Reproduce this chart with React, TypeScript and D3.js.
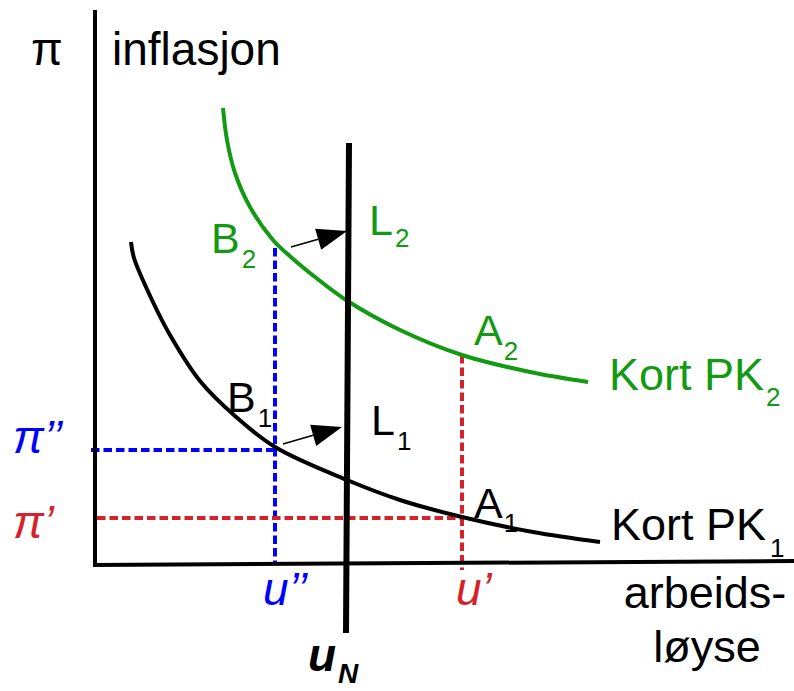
import React from "react";
import * as d3 from "d3";

// ---- data (economic units: u = unemployment, p = inflation) ----
const curvePK1: [number, number][] = [
  [0.72, 6.46], [0.78, 6.14], [1.14, 5.3], [1.5, 4.6], [2.1, 3.68], [2.8, 2.98],
  [3.6, 2.36], [5.04, 1.7], [6.1, 1.3], [7.34, 0.96], [8.76, 0.66], [10.1, 0.46],
];
const curvePK2: [number, number][] = [
  [2.56, 9.14], [2.64, 8.5], [2.8, 7.84], [3.1, 7.16], [3.56, 6.5],
  [3.94, 6.14], [4.4, 5.76], [5.02, 5.3], [6.1, 4.7], [7.34, 4.2], [8.7, 3.86], [9.86, 3.66],
];
const naturalRate: [number, number][] = [[5.08, 8.44], [5.02, -1.36]];
const uDouble = 3.6;   // u''
const piDouble = 2.3;  // pi''
const uSingle = 7.34;  // u'
const piSingle = 0.94; // pi'
const arrows: { from: [number, number]; to: [number, number] }[] = [
  { from: [3.92, 6.36], to: [5.04, 6.68] },
  { from: [3.76, 2.42], to: [4.94, 2.76] },
];
const yAxisTop = 11.1;
const xAxisEnd: [number, number] = [13.98, 0.08];

const W = 794;
const H = 691;

const x = d3.scaleLinear().domain([0, 14]).range([95, 795]);
const y = d3.scaleLinear().domain([0, 11.1]).range([565, 10]);

const line = d3
  .line<[number, number]>()
  .x((d) => x(d[0]))
  .y((d) => y(d[1]))
  .curve(d3.curveCatmullRom.alpha(0.5));
const straight = d3
  .line<[number, number]>()
  .x((d) => x(d[0]))
  .y((d) => y(d[1]));

const GREEN = "#129a12";
const RED = "#d3222a";
const BLUE = "#0000ff";
const FONT = "'Liberation Sans', Arial, sans-serif";

function Arrow({ from, to }: { from: [number, number]; to: [number, number] }) {
  const x1 = x(from[0]), y1 = y(from[1]);
  const x2 = x(to[0]), y2 = y(to[1]);
  const dx = x2 - x1, dy = y2 - y1;
  const len = Math.hypot(dx, dy);
  const ux = dx / len, uy = dy / len;
  const hl = 30, hw = 11;
  const bx = x2 - ux * hl, by = y2 - uy * hl;
  const pts = [
    [x2, y2],
    [bx - uy * hw, by + ux * hw],
    [bx + uy * hw, by - ux * hw],
  ];
  return (
    <g>
      <line x1={x1} y1={y1} x2={bx} y2={by} stroke="#000" strokeWidth={1.6} />
      <polygon points={pts.map((p) => p.join(",")).join(" ")} fill="#000" />
    </g>
  );
}

function Lbl({
  x: lx, y: ly, main, sub, color = "#000", size = 43, subSize = 26, subDx = 2, subDy = 15,
}: {
  x: number; y: number; main: string; sub?: string; color?: string; size?: number;
  subSize?: number; subDx?: number; subDy?: number;
}) {
  return (
    <text x={lx} y={ly} fill={color} fontFamily={FONT} fontSize={size}>
      {main}
      {sub && (
        <tspan dx={subDx} dy={subDy} fontSize={subSize}>
          {sub}
        </tspan>
      )}
    </text>
  );
}

export default function App() {
  return (
    <svg
      width={W}
      height={H}
      viewBox={`0 0 ${W} ${H}`}
      style={{ position: "absolute", left: 0, top: 0, background: "#fff" }}
    >
      <rect width={W} height={H} fill="#fff" />
      {/* dashed guides */}
      <path
        d={straight([[-0.08, piDouble], [uDouble, piDouble]]) || ""}
        stroke={BLUE} strokeWidth={4} strokeDasharray="8.5 4" fill="none"
      />
      <path
        d={straight([[uDouble, 6.34], [uDouble, 0]]) || ""}
        stroke={BLUE} strokeWidth={4} strokeDasharray="8.5 4" fill="none"
      />
      <path
        d={straight([[0.04, piSingle], [uSingle, piSingle]]) || ""}
        stroke={RED} strokeWidth={4} strokeDasharray="8.5 4" fill="none"
      />
      <path
        d={straight([[uSingle, 4.2], [uSingle, -0.1]]) || ""}
        stroke={RED} strokeWidth={4} strokeDasharray="8.5 4" fill="none"
      />

      {/* axes */}
      <path d={straight([[0, yAxisTop], [0, -0.02]]) || ""} stroke="#000" strokeWidth={4} fill="none" />
      <path d={straight([[-0.04, 0], xAxisEnd]) || ""} stroke="#000" strokeWidth={4} fill="none" />

      {/* Phillips curves */}
      <path d={line(curvePK1) || ""} stroke="#000" strokeWidth={4} fill="none" />
      <path d={line(curvePK2) || ""} stroke={GREEN} strokeWidth={4} fill="none" />

      {/* long-run vertical */}
      <path d={straight(naturalRate) || ""} stroke="#000" strokeWidth={6} fill="none" />

      {arrows.map((a, i) => (
        <Arrow key={i} from={a.from} to={a.to} />
      ))}

      {/* texts */}
      <text x={31} y={65} fontFamily={FONT} fontSize={46}>π</text>
      <text x={112} y={65} fontFamily={FONT} fontSize={46}>inflasjon</text>

      <Lbl x={211} y={253} main="B" sub="2" color={GREEN} />
      <Lbl x={369} y={235} main="L" sub="2" color={GREEN} subDy={12} />
      <Lbl x={227} y={412} main="B" sub="1" />
      <Lbl x={371} y={435} main="L" sub="1" subDy={15} />
      <Lbl x={474} y={345} main="A" sub="2" color={GREEN} subDx={1} />
      <Lbl x={474} y={518} main="A" sub="1" subDx={1} subDy={14} />
      <Lbl x={609} y={390} main="Kort PK" sub="2" color={GREEN} size={45} subDy={16} />
      <Lbl x={611} y={540} main="Kort PK" sub="1" size={45} subDx={4} subDy={17} />

      <text x={13} y={453} fill={BLUE} fontFamily={FONT} fontSize={46} fontStyle="italic">π’’</text>
      <text x={13} y={538} fill={RED} fontFamily={FONT} fontSize={46} fontStyle="italic">π’</text>
      <text x={263} y={605} fill={BLUE} fontFamily={FONT} fontSize={46} fontStyle="italic">u’’</text>
      <text x={456} y={605} fill={RED} fontFamily={FONT} fontSize={46} fontStyle="italic">u’</text>

      <text x={705} y={608} textAnchor="middle" fontFamily={FONT} fontSize={45}>arbeids-</text>
      <text x={707} y={662} textAnchor="middle" fontFamily={FONT} fontSize={45}>løyse</text>

      <text x={308} y={671} fontFamily={FONT} fontSize={46} fontWeight="bold" fontStyle="italic">
        u
        <tspan dx={2} dy={12} fontSize={28}>N</tspan>
      </text>
    </svg>
  );
}
